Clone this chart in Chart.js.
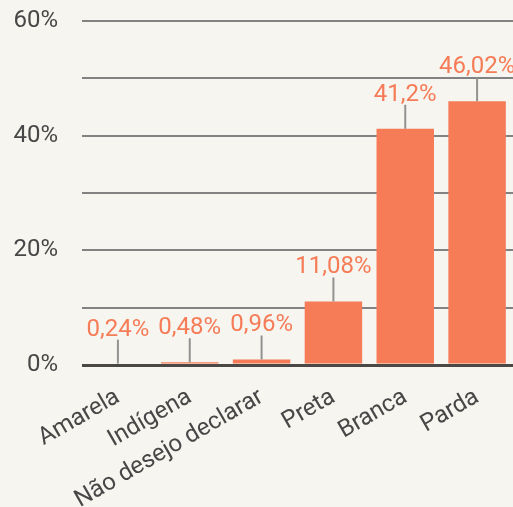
<!DOCTYPE html>
<html>
<head>
<meta charset="utf-8">
<script src="https://cdn.jsdelivr.net/npm/chart.js@4.4.0/dist/chart.umd.min.js"></script>
<style>
  html, body { margin: 0; padding: 0; background: #f6f5ef; }
  #wrap { width: 513px; height: 507px; }
</style>
</head>
<body>
<div id="wrap"><canvas id="myChart"></canvas></div>
<script>
// categories and values (percent)
const categories = ['Amarela', 'Indígena', 'Não desejo declarar', 'Preta', 'Branca', 'Parda'];
const values = [0.24, 0.48, 0.96, 11.08, 41.2, 46.02];
const valueLabels = ['0,24%', '0,48%', '0,96%', '11,08%', '41,2%', '46,02%'];
const yTicks = [0, 20, 40, 60];

const barColor = '#f67b57';

// draws the little gray stem and the value over each bar
const labelPlugin = {
  id: 'stemLabels',
  afterDatasetsDraw(chart) {
    const ctx = chart.ctx;
    const meta = chart.getDatasetMeta(0);
    ctx.save();
    meta.data.forEach(function(bar, i) {
      const top = bar.y;
      ctx.strokeStyle = '#929292';
      ctx.lineWidth = 2;
      ctx.beginPath();
      ctx.moveTo(bar.x, top);
      ctx.lineTo(bar.x, top - 24);
      ctx.stroke();

      ctx.fillStyle = barColor;
      ctx.font = '24px Roboto';
      ctx.textAlign = 'center';
      ctx.textBaseline = 'alphabetic';
      ctx.fillText(valueLabels[i], bar.x, top - 28);
    });
    ctx.restore();
  }
};

const ctx = document.getElementById('myChart');

new Chart(ctx, {
  type: 'bar',
  data: {
    labels: categories,
    datasets: [{
      data: values,
      backgroundColor: barColor,
      barPercentage: 0.8,
      categoryPercentage: 1
    }]
  },
  options: {
    responsive: true,
    maintainAspectRatio: false,
    animation: false,
    layout: { padding: { top: 21, right: 0, left: 12, bottom: 0 } },
    plugins: {
      legend: { display: false },
      tooltip: { enabled: false }
    },
    scales: {
      x: {
        grid: { display: false, drawTicks: false },
        border: { display: false },
        afterFit: function(scale) { scale.height = 142; },
        ticks: {
          color: '#474747',
          font: { family: 'Roboto', size: 24 },
          minRotation: 30,
          maxRotation: 30,
          padding: 18
        }
      },
      y: {
        min: 0,
        max: 60,
        border: { display: false },
        afterFit: function(scale) {
          scale.width = 70;
          scale.paddingTop = 0;
          scale.paddingBottom = 0;
        },
        grid: {
          drawTicks: false,
          color: function(c) { return c.tick && c.tick.value === 0 ? '#4a4744' : '#828282'; },
          lineWidth: function(c) { return c.tick && c.tick.value === 0 ? 3 : 2; }
        },
        ticks: {
          stepSize: 10,
          padding: 24,
          color: '#474747',
          font: { family: 'Roboto', size: 24 },
          callback: function(v) {
            return yTicks.includes(v) ? v + '%' : '';
          }
        }
      }
    }
  },
  plugins: [labelPlugin]
});
</script>
</body>
</html>
